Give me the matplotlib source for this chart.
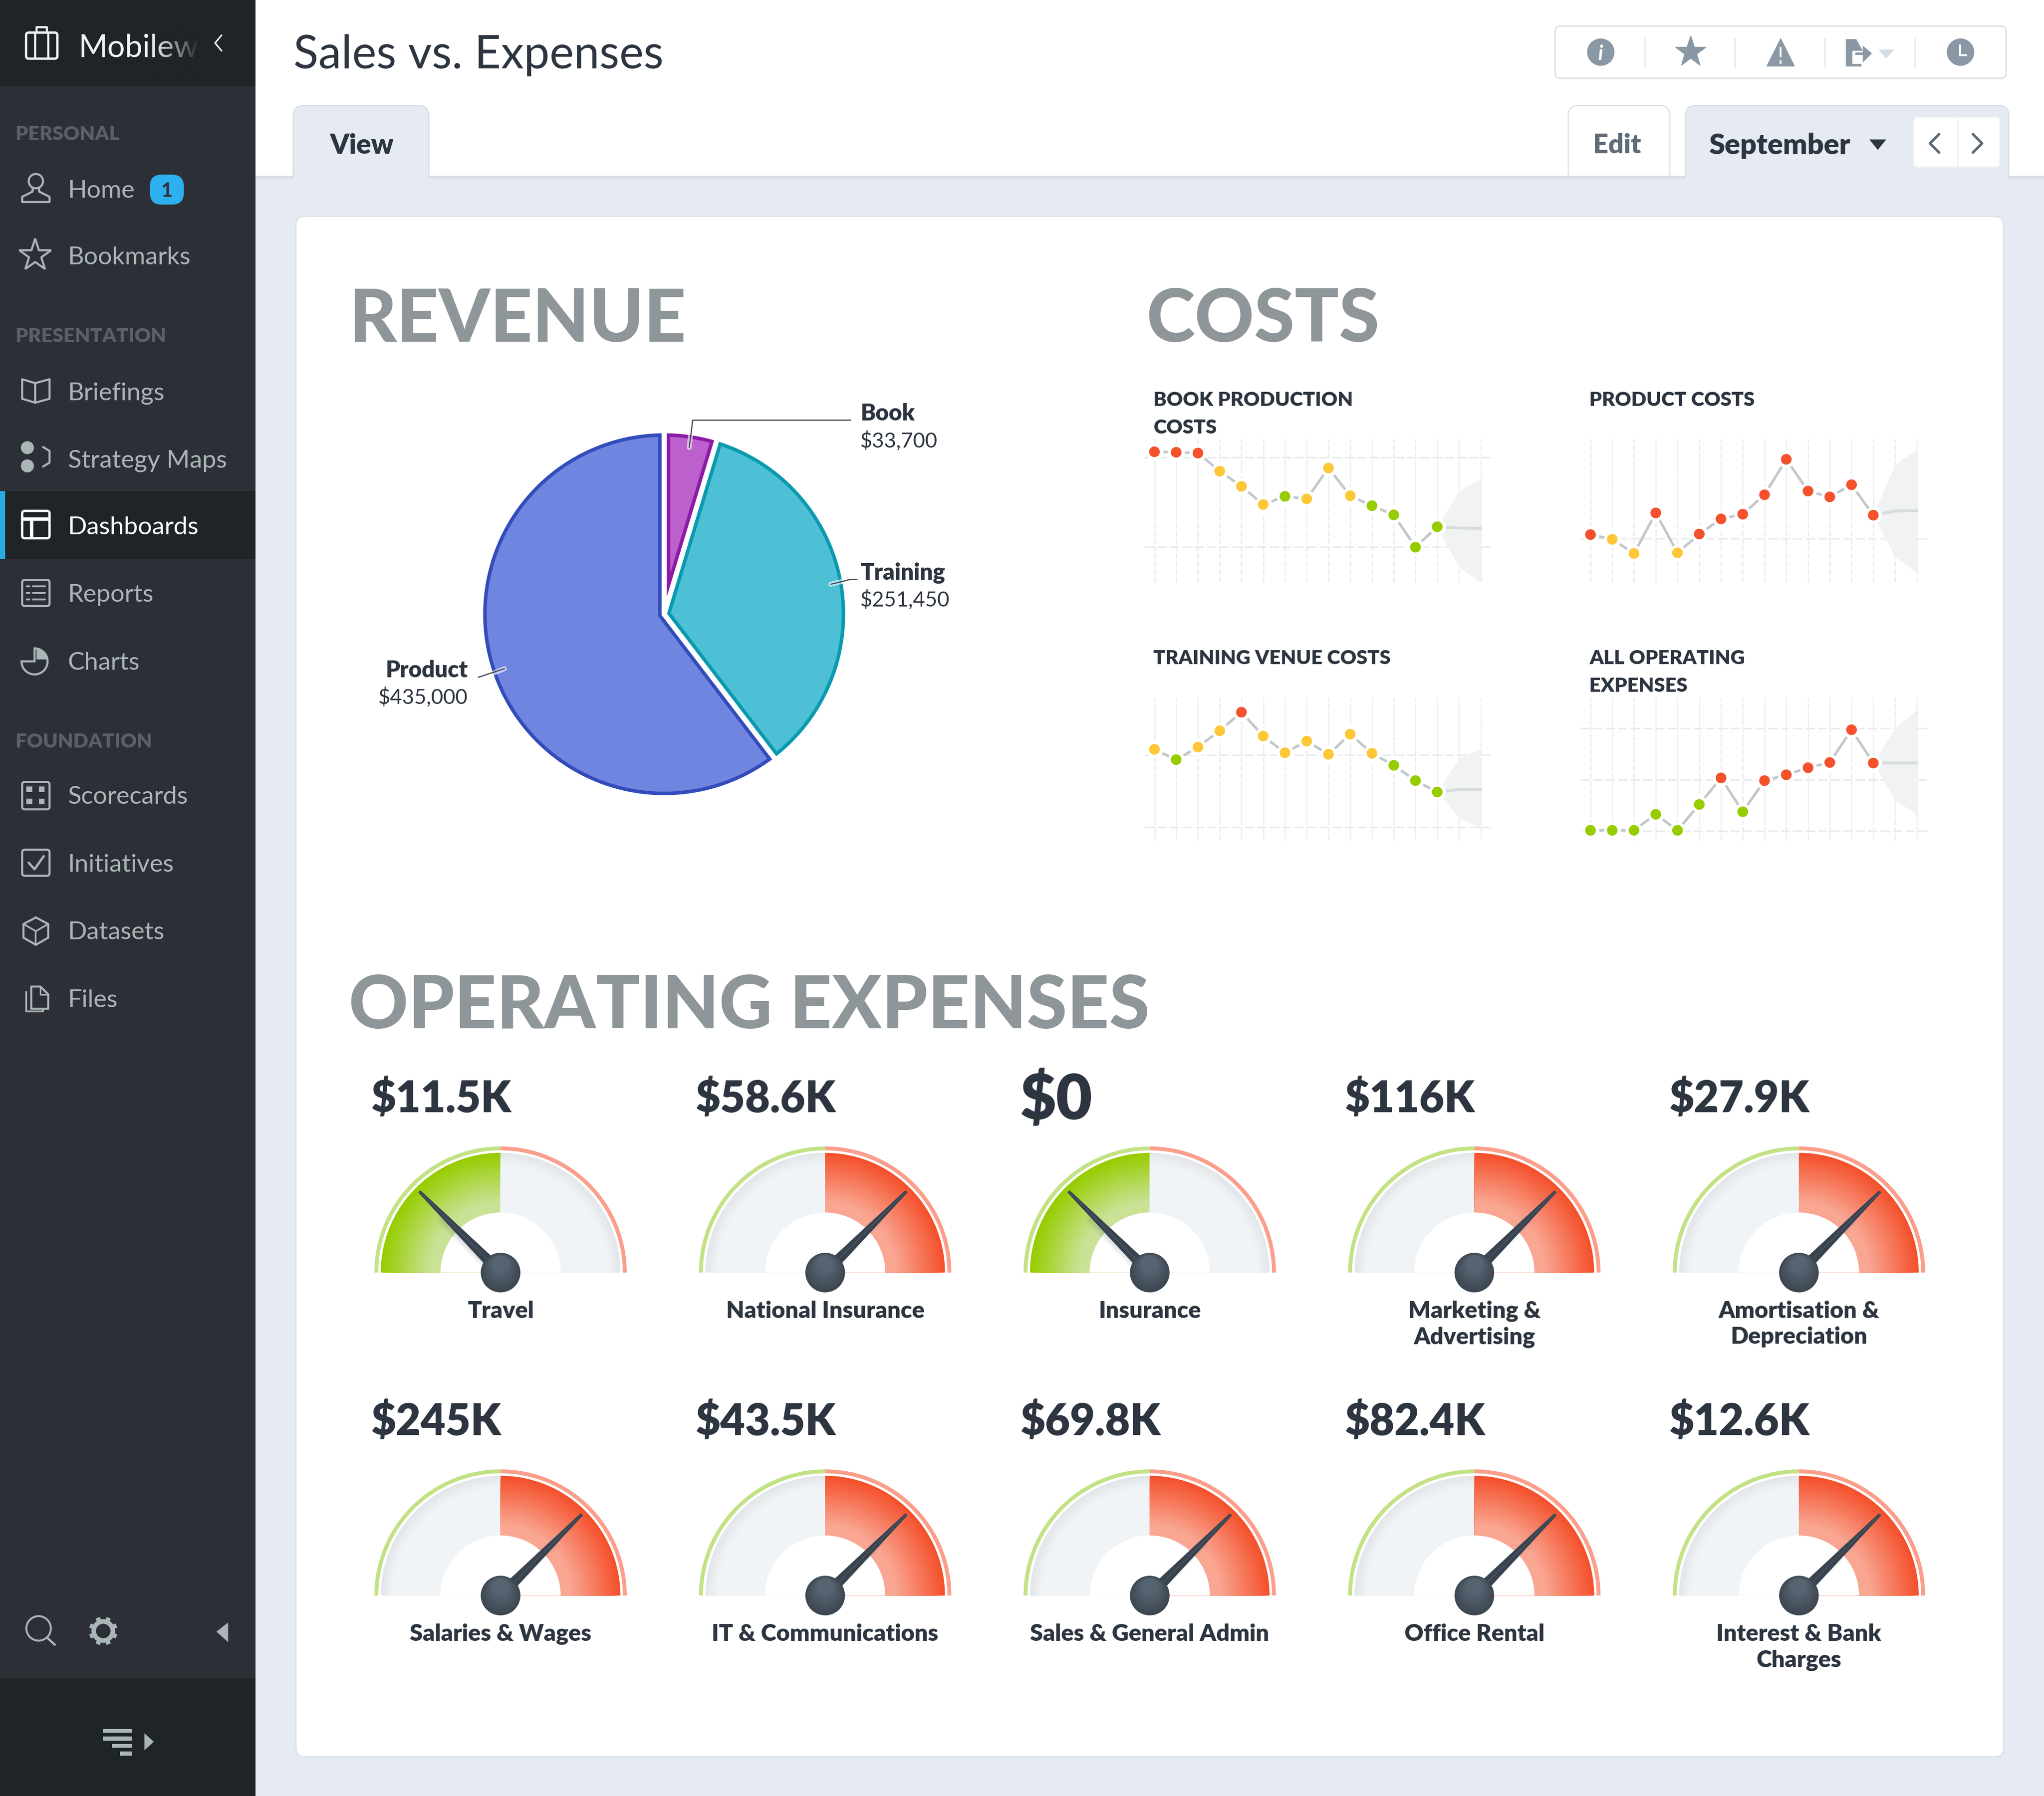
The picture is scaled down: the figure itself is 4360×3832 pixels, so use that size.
import numpy as np
import matplotlib
matplotlib.use('Agg')
import matplotlib.pyplot as plt
from matplotlib.patches import Rectangle, FancyBboxPatch, Circle, Wedge, Polygon
from matplotlib.colors import to_rgb

plt.rcParams['font.family'] = ['Lato', 'DejaVu Sans']

W = 1568.0
H = 1568.0 * 3832 / 4360

DARK = '#2d3540'
SIDE_TEXT = '#aab5b8'
GRID = '#e9ebeb'
RED = '#f4512c'
YELLOW = '#fdc738'
GREEN = '#97cc00'
BOLD = 800
status_colors = {'r': RED, 'y': YELLOW, 'g': GREEN}

# revenue pie
pie_names = ['Book', 'Training', 'Product']
pie_labels = ['$33,700', '$251,450', '$435,000']
pie_values = [33700, 251450, 435000]
pie_fill = ['#bb60cc', '#4dc0d5', '#7085e0']
pie_edge = ['#8c1ba6', '#0a9ab0', '#324cbb']

book_vals = [91.2, 90.8, 90.3, 77.6, 67.0, 54.3, 60.0, 58.2, 79.8, 60.4, 53.4, 47.0, 24.4, 38.7]
book_status = 'rrryyygyyygggg'
book_fc = [37.8, 37.6]
book_top = [63.7, 72.5]
book_low = [10.3, 0.0]
book_h = [87.3, 24.6]

prod_vals = [33.2, 29.9, 20.0, 48.4, 20.4, 33.6, 44.2, 47.5, 61.1, 85.9, 63.7, 59.6, 68.1, 46.8]
prod_status = 'ryyryrrrrrrrrr'
prod_fc = [49.7, 49.9]
prod_top = [82.4, 92.7]
prod_low = [17.6, 6.6]
prod_h = [30.3]

venue_vals = [63.7, 56.5, 65.3, 76.7, 89.7, 73.0, 61.3, 69.5, 60.2, 74.3, 60.9, 52.5, 41.8, 33.8]
venue_status = 'ygyyryyyyyyggg'
venue_fc = [35.6, 35.8]
venue_top = [57.4, 64.4]
venue_low = [16.0, 8.4]
venue_h = [59.6, 9.2]

opex_vals = [7.0, 7.0, 7.0, 18.2, 7.0, 25.1, 43.7, 20.0, 41.8, 45.9, 50.8, 54.5, 77.4, 54.1]
opex_status = 'ggggggrgrrrrrr'
opex_fc = [54.1, 54.1]
opex_top = [78.7, 91.2]
opex_low = [28.1, 18.2]
opex_h = [78.5, 42.4, 6.6]

# gauges
gauge_amounts = ['$11.5K', '$58.6K', '$0', '$116K', '$27.9K',
                 '$245K', '$43.5K', '$69.8K', '$82.4K', '$12.6K']
gauge_names = ['Travel', 'National Insurance', 'Insurance', 'Marketing &\nAdvertising',
               'Amortisation &\nDepreciation', 'Salaries & Wages', 'IT & Communications',
               'Sales & General Admin', 'Office Rental', 'Interest & Bank\nCharges']
gauge_needle = [25, 75, 25, 75, 75, 75, 75, 75, 75, 75]

nav_top = ['Home', 'Bookmarks']
nav_mid = ['Briefings', 'Strategy Maps', 'Dashboards', 'Reports', 'Charts']
nav_low = ['Scorecards', 'Initiatives', 'Datasets', 'Files']

fig = plt.figure(figsize=(43.6, 38.32), dpi=100, facecolor='white')
ax = fig.add_axes([0, 0, 1, 1])
ax.set_xlim(0, W)
ax.set_ylim(H, 0)
ax.axis('off')
ax.set_autoscale_on(False)


def txt(x, y, s, size, color=DARK, weight='normal', ha='left', z=10):
    return ax.text(x, y, s, fontsize=size * 2, color=color, fontweight=weight, ha=ha,
                   va='center_baseline', zorder=z, linespacing=1.0)


def rect(x0, y0, x1, y1, color, z=1):
    ax.add_patch(Rectangle((x0, y0), x1 - x0, y1 - y0, fc=color, ec='none', zorder=z))


def rbox(x0, y0, x1, y1, fc, ec, lw=1.0, r=6, z=2):
    ax.add_patch(FancyBboxPatch((x0 + r, y0 + r), x1 - x0 - 2 * r, y1 - y0 - 2 * r,
                                boxstyle='round,pad=%f,rounding_size=%f' % (r, r),
                                fc=fc, ec=ec, lw=lw * 2, zorder=z))


def line(xs, ys, color=SIDE_TEXT, lw=1.6, z=10, cap='round'):
    ax.plot(xs, ys, color=color, lw=lw * 2, zorder=z, solid_capstyle=cap, solid_joinstyle='round')


def tri(pts, color, z=10):
    ax.add_patch(Polygon(pts, closed=True, fc=color, ec='none', zorder=z))


# page background and header
BG = '#e6eaf2'
BORDER = '#d8dfe6'
rbox(1203, 81, 1281, 150, 'white', BORDER, 0.9, 8)
rect(196, 136, W, H, BG, 3)
rect(196, 135, W, 137, BORDER, 3)
for x0, x1 in [(225, 329), (1293, 1541)]:
    rbox(x0, 81, x1, 150, BG, BORDER, 1.0, 8, z=4)
    rect(x0 - 1, 137, x1 + 1, 155, BG, 5)
rbox(227, 166, 1537, 1348, 'white', '#dde2e8', 1.0, 7, z=5)

txt(225, 39.5, 'Sales vs. Expenses', 35.3, '#2d3540')
txt(253, 110, 'View', 21, DARK, BOLD)
txt(1222, 110, 'Edit', 20.5, '#5f6b78', BOLD)
txt(1311, 110, 'September', 22, DARK, BOLD)
tri([(1434, 107), (1447, 107), (1440.5, 115)], DARK)
rbox(1468, 90, 1534, 128, 'white', '#f3f5f8', 1.0, 3, z=6)
line([1502, 1502], [90, 128], '#f0f3f6', 1.0, 7)
line([1487.5, 1480.5, 1487.5], [103, 110, 117], '#5f6b78', 2.0)
line([1513.5, 1520.5, 1513.5], [103, 110, 117], '#5f6b78', 2.0)

# toolbar
ICON = '#8a98a5'
rbox(1193, 20, 1539, 60, 'white', BORDER, 1.0, 4, z=6)
for x in [1262, 1331, 1400, 1469]:
    line([x, x], [29, 52], BORDER, 0.8, 7, 'butt')
ax.add_patch(Circle((1228, 40), 10.5, fc=ICON, ec='none', zorder=8))
ax.text(1228, 40, 'i', fontsize=32, color='white', fontweight='bold', fontstyle='italic',
        ha='center', va='center_baseline', zorder=9)
ax.plot([1297], [40], marker='*', ms=50, color=ICON, mec=ICON, zorder=8)
tri([(1366, 29), (1377, 51), (1355, 51)], ICON, 8)
line([1366, 1366], [36, 44], 'white', 1.4, 9, 'butt')
line([1366, 1366], [46.5, 49], 'white', 1.4, 9, 'butt')
tri([(1416, 30), (1424, 30), (1429, 39), (1421, 39), (1421, 49), (1428, 49), (1428, 51), (1416, 51)], ICON, 8)
tri([(1429, 35), (1436, 41), (1429, 48)], ICON, 10)
line([1423, 1431], [41, 41], ICON, 1.8, 10, 'butt')
tri([(1441, 38), (1453, 38), (1447, 45)], '#d5dce2', 8)
ax.add_patch(Circle((1504, 40), 10.5, fc=ICON, ec='none', zorder=8))
line([1503.5, 1503.5, 1509], [34, 42.5, 42.5], 'white', 1.5, 9, 'butt')

# sidebar
SIDE = '#2c2f35'
SIDE_DK = '#1f2427'
rect(0, 0, 196, H, SIDE, 6)
rect(0, 0, 196, 66, SIDE_DK, 7)
rect(0, 1287.5, 196, H, SIDE_DK, 7)
rect(0, 377, 196, 429, SIDE_DK, 7)
rect(0, 377, 4, 429, '#29abe2', 8)

rbox(20, 25, 44, 45, 'none', '#f0f3f6', 1.8, 2, z=9)
line([27, 27], [26, 45], '#f0f3f6', 1.6, 9, 'butt')
line([37, 37], [26, 45], '#f0f3f6', 1.6, 9, 'butt')
line([28, 28, 36, 36], [25, 21, 21, 25], '#f0f3f6', 1.6, 9)
txt(60.5, 35, 'Mobilew', 24, '#f0f3f6', 'normal', z=9)
fade = np.zeros((1, 60, 4))
fade[0, :, :3] = to_rgb(SIDE_DK)
fade[0, :, 3] = np.linspace(0, 1, 60) ** 1.2
ax.imshow(fade, extent=(115, 153, 60, 10), aspect='auto', zorder=9.5, interpolation='bilinear')
ax.set_xlim(0, W)
ax.set_ylim(H, 0)
line([170, 165, 170], [27, 33, 39], '#f0f3f6', 1.2)

for name, y in [('PERSONAL', 102), ('PRESENTATION', 257), ('FOUNDATION', 568)]:
    txt(12, y, name, 15.2, '#5b5f65', BOLD)

for name, y in zip(nav_top + nav_mid + nav_low, [145, 196, 300, 352, 403, 455, 507, 610, 662, 714, 766]):
    txt(52, y, name, 19.2, 'white' if name == 'Dashboards' else SIDE_TEXT)

rbox(115, 134, 141, 157, '#2cb0ee', 'none', 0, 9, z=9)
txt(128, 145.5, '1', 15, DARK, 900, 'center')

# Home
ax.add_patch(Circle((27.5, 139), 5.5, fc='none', ec=SIDE_TEXT, lw=3.2, zorder=10))
line([25, 25, 17, 17, 38, 38, 30, 30], [144, 147, 151, 155, 155, 151, 147, 144])
# Bookmarks
ax.plot([27], [196], marker='*', ms=52, mfc='none', mec=SIDE_TEXT, mew=3.2, zorder=10)
# Briefings
line([27, 17, 17, 27, 38, 38, 27, 27], [294, 291, 306, 309, 306, 291, 294, 309])
# Strategy maps
ax.add_patch(Circle((21, 343.5), 5, fc=SIDE_TEXT, zorder=10))
ax.add_patch(Circle((21, 357.5), 5, fc=SIDE_TEXT, zorder=10))
line([33, 38, 38, 33], [343, 346, 355, 358])
# Dashboards
rbox(17, 392, 38, 413, 'none', 'white', 1.8, 2, z=10)
line([17, 38], [398, 398], 'white', 2.6, 10, 'butt')
line([24, 24], [398, 413], 'white', 2.6, 10, 'butt')
# Reports
rbox(17, 445, 38, 465, 'none', SIDE_TEXT, 1.6, 2, z=10)
for y in [450, 455, 460]:
    line([20.5, 22.5], [y, y], lw=1.4)
    line([25, 34.5], [y, y], lw=1.4)
# Charts
ax.add_patch(Wedge((26.5, 507.5), 10, 270, 360 + 180, fc='none', ec=SIDE_TEXT, lw=3.2, zorder=10))
ax.add_patch(Wedge((28, 506), 8.5, 270, 360, fc=SIDE_TEXT, ec='none', zorder=10))
# Scorecards
rbox(17, 600, 38, 621, 'none', SIDE_TEXT, 1.6, 2, z=10)
for dx, dy in [(22.5, 605.5), (32, 605.5), (22.5, 615), (32, 615)]:
    rect(dx - 2.2, dy - 2.2, dx + 2.2, dy + 2.2, SIDE_TEXT, 10)
# Initiatives
rbox(17, 652, 38, 672, 'none', SIDE_TEXT, 1.6, 2, z=10)
line([22, 26.5, 33.5], [662, 667, 657], lw=1.8)
# Datasets
cube_x = [27.5, 37, 37, 27.5, 18, 18, 27.5]
cube_y = [704, 709, 719.5, 725, 719.5, 709, 704]
line(cube_x, cube_y)
line([18, 27.5, 37], [709, 714.5, 709], lw=1.3)
line([27.5, 27.5], [714.5, 725], lw=1.3)
# Files
line([24, 24, 31, 37, 37, 24], [774, 757, 757, 763, 774, 774])
line([31, 31, 37], [757, 763, 763], lw=1.2)
line([20, 20, 33, 33], [761, 776, 776, 774], lw=1.4)

# sidebar footer
ax.add_patch(Circle((29.6, 1249.5), 9.4, fc='none', ec=SIDE_TEXT, lw=3, zorder=10))
line([36, 42.5], [1256.5, 1262.5], SIDE_TEXT, 1.7, 10, 'butt')
ax.add_patch(Circle((79.2, 1251.5), 7.3, fc='none', ec=SIDE_TEXT, lw=7, zorder=10))
for a in np.radians(np.arange(0, 360, 45) + 22.5):
    line([79.2 + 8 * np.cos(a), 79.2 + 11 * np.cos(a)], [1251.5 + 8 * np.sin(a), 1251.5 + 11 * np.sin(a)],
         SIDE_TEXT, 3.4, 10, 'butt')
tri([(166, 1252), (175, 1245), (175, 1260)], SIDE_TEXT)
for y, x0 in [(1328.2, 79), (1334, 79), (1339.7, 86), (1345.6, 92)]:
    rect(x0, y - 1.5, 101, y + 1.5, SIDE_TEXT, 10)
tri([(110.8, 1330), (118, 1336.5), (110.8, 1343)], SIDE_TEXT)

# section headings
txt(267.5, 241, 'REVENUE', 56.4, '#8e9699', 900)
txt(879.5, 241, 'COSTS', 56.4, '#8e9699', 900)
txt(267.5, 768, 'OPERATING EXPENSES', 56.4, '#8e9699', 900)

# pie
PIE_X, PIE_Y, PIE_R, PAD = 509.5, 471.3, 137.5, 146.0
pax = fig.add_axes([(PIE_X - PAD) / W, 1 - (PIE_Y + PAD) / H, 2 * PAD / W, 2 * PAD / H])
wedges = pax.pie(pie_values, startangle=90, counterclock=False, radius=PIE_R, colors=pie_fill)[0]
pax.set_xlim(-PAD, PAD)
pax.set_ylim(-PAD, PAD)
pax.set_aspect('equal')
pax.set_facecolor('none')
GAP = 3.3
for w, fc, ec in zip(wedges, pie_fill, pie_edge):
    w.set_visible(False)
    half = np.radians(w.theta2 - w.theta1) / 2
    mid = np.radians(w.theta1) + half
    shift = GAP / np.sin(half)
    nudge = np.degrees(np.arcsin(GAP / PIE_R))
    arc = np.radians(np.linspace(w.theta1 + nudge, w.theta2 - nudge, 200))
    pts = np.vstack([[shift * np.cos(mid), shift * np.sin(mid)],
                     np.column_stack([PIE_R * np.cos(arc), PIE_R * np.sin(arc)])])
    pax.add_patch(Polygon(pts, closed=True, fc=fc, ec=ec, lw=5.4, joinstyle='miter', zorder=2))

# leader lines sit above the pie axes
top = fig.add_axes([0, 0, 1, 1])
top.set_xlim(0, W)
top.set_ylim(H, 0)
top.axis('off')
for xs, ys in [([528.7, 530.3], [343.4, 329]), ([637.4, 648], [448.3, 445.6]), ([386.9, 376], [513.1, 517.6])]:
    top.plot(xs, ys, color='white', alpha=0.6, lw=7.5, solid_capstyle='round')
for xs, ys in [([528.7, 531.4, 652.5], [343.4, 322.4, 322.4]),
               ([637.4, 652, 657.4], [448.3, 444.7, 444.7]),
               ([386.9, 366.9], [513.1, 519.7])]:
    top.plot(xs, ys, color='#3e4853', lw=1.8, solid_capstyle='round')

txt(660, 316, pie_names[0], 17.5, DARK, BOLD)
txt(660, 337, pie_labels[0], 16, DARK)
txt(660, 438, pie_names[1], 17.5, DARK, BOLD)
txt(660, 459, pie_labels[1], 16, DARK)
txt(359, 513, pie_names[2], 17.5, DARK, BOLD, 'right')
txt(359, 534, pie_labels[2], 16, DARK, 'normal', 'right')


# sparklines
def spark(x0, y0, title, vals, status, fc, up, low, hlines):
    sx = fig.add_axes([(x0 - 7.84) / W, 1 - (y0 + 109.6) / H, 266.0 / W, 109.6 / H])
    sx.set_xlim(-0.47, 15.47)
    sx.set_ylim(0, 100)
    sx.axis('off')
    for i in range(16):
        sx.plot([i, i], [0, 100], color=GRID, lw=1.8, dashes=(5, 1.6), zorder=1)
    for h in hlines:
        sx.plot([-0.47, 15.47], [h, h], color=GRID, lw=2.4, dashes=(6, 2), zorder=1)
    fx = [13, 14, 15]
    sx.fill_between(fx, [vals[-1], low[0], low[1]], [vals[-1], up[0], up[1]], color='#f1f3f2', lw=0, zorder=2)
    sx.plot(fx, [vals[-1]] + fc, color='#d7dbdc', lw=4.4, zorder=3)
    idx = np.arange(len(vals))
    sx.plot(idx, vals, color='#c2c8ca', lw=4, zorder=4)
    sx.scatter(idx, vals, s=(2 * 6.5 * 2) ** 2, c='white', lw=0, zorder=5, clip_on=False)
    sx.scatter(idx, vals, s=(2 * 4.1 * 2) ** 2, c=[status_colors[s] for s in status], lw=0, zorder=6, clip_on=False)
    for i, t in enumerate(title):
        txt(x0 - 0.8, y0 - 31 + 21 * i, t, 15.3, DARK, BOLD)


spark(885.6, 337, ['BOOK PRODUCTION', 'COSTS'], book_vals, book_status, book_fc, book_top, book_low, book_h)
spark(1220.1, 337, ['PRODUCT COSTS'], prod_vals, prod_status, prod_fc, prod_top, prod_low, prod_h)
spark(885.6, 535.2, ['TRAINING VENUE COSTS'], venue_vals, venue_status, venue_fc, venue_top, venue_low, venue_h)
spark(1220.1, 535.2, ['ALL OPERATING', 'EXPENSES'], opex_vals, opex_status, opex_fc, opex_top, opex_low, opex_h)


# gauges
def mix(a, b, t):
    a, b = np.array(to_rgb(a)), np.array(to_rgb(b))
    return tuple(a + (b - a) * t)


def band(cx, cy, th1, th2, rim, inner, reach):
    n = 30
    for k in range(n):
        r = 91.9 - (91.9 - 46.1) * k / n
        t = min(1.0, k / (n * reach))
        ax.add_patch(Wedge((cx, cy), r, th1, th2, fc=mix(rim, inner, t), ec='none', zorder=6))


def gauge(cx, cy, amount, name, needle):
    ax.add_patch(Wedge((cx, cy), 96.8, 180, 270, width=3, fc='#c2e285', ec='none', zorder=6))
    ax.add_patch(Wedge((cx, cy), 96.8, 270, 360, width=3, fc='#fb9e8b', ec='none', zorder=6))
    if needle < 50:
        band(cx, cy, 180, 270, GREEN, '#c9e296', 0.82)
        band(cx, cy, 270, 360, '#e3e7ea', '#f1f4f7', 0.2)
    else:
        band(cx, cy, 180, 270, '#e3e7ea', '#f1f4f7', 0.2)
        band(cx, cy, 270, 360, RED, '#f9a793', 0.82)
    ax.add_patch(Wedge((cx, cy), 46.1, 180, 360, fc='white', ec='none', zorder=7))

    a = np.radians(180 * (1 - needle / 100))
    ux, uy = np.cos(a), -np.sin(a)
    px, py = -uy, ux
    for sw in [16, 11, 6]:
        ax.plot([cx + ux * 12 - 2, cx + ux * 60 - 2], [cy + uy * 12 + 2.5, cy + uy * 60 + 2.5],
                color='#3e4853', alpha=0.05, lw=sw, zorder=8, solid_capstyle='round')
    neck = (cx + ux * 8, cy + uy * 8)
    tip = (cx + ux * 88, cy + uy * 88)
    tri([(neck[0] + px * 4.2, neck[1] + py * 4.2), (tip[0] + px * 1.2, tip[1] + py * 1.2),
         (tip[0] - px * 1.2, tip[1] - py * 1.2), (neck[0] - px * 4.2, neck[1] - py * 4.2)], '#39434f', 9)
    line([neck[0], tip[0]], [neck[1], tip[1]], '#47525e', 0.9, 9.1)
    for k in range(7):
        r = 15.2 - k * 1.5
        ax.add_patch(Circle((cx, cy - (15.2 - r) * 0.75), r, fc=mix('#3e4853', '#566371', k / 6), ec='none', zorder=9.2))

    big = amount == '$0'
    txt(cx - 99.5, cy - 136, amount, 48 if big else 33, DARK, BOLD)
    for i, part in enumerate(name.split('\n')):
        txt(cx, cy + 28 + 20 * i, part, 17.9, DARK, BOLD, 'center')


centers_x = [384, 633, 882, 1131, 1380]
for i in range(10):
    gauge(centers_x[i % 5], 976.5 if i < 5 else 1224.3, gauge_amounts[i], gauge_names[i], gauge_needle[i])

fig.savefig('out.png', dpi=100, facecolor='white')
